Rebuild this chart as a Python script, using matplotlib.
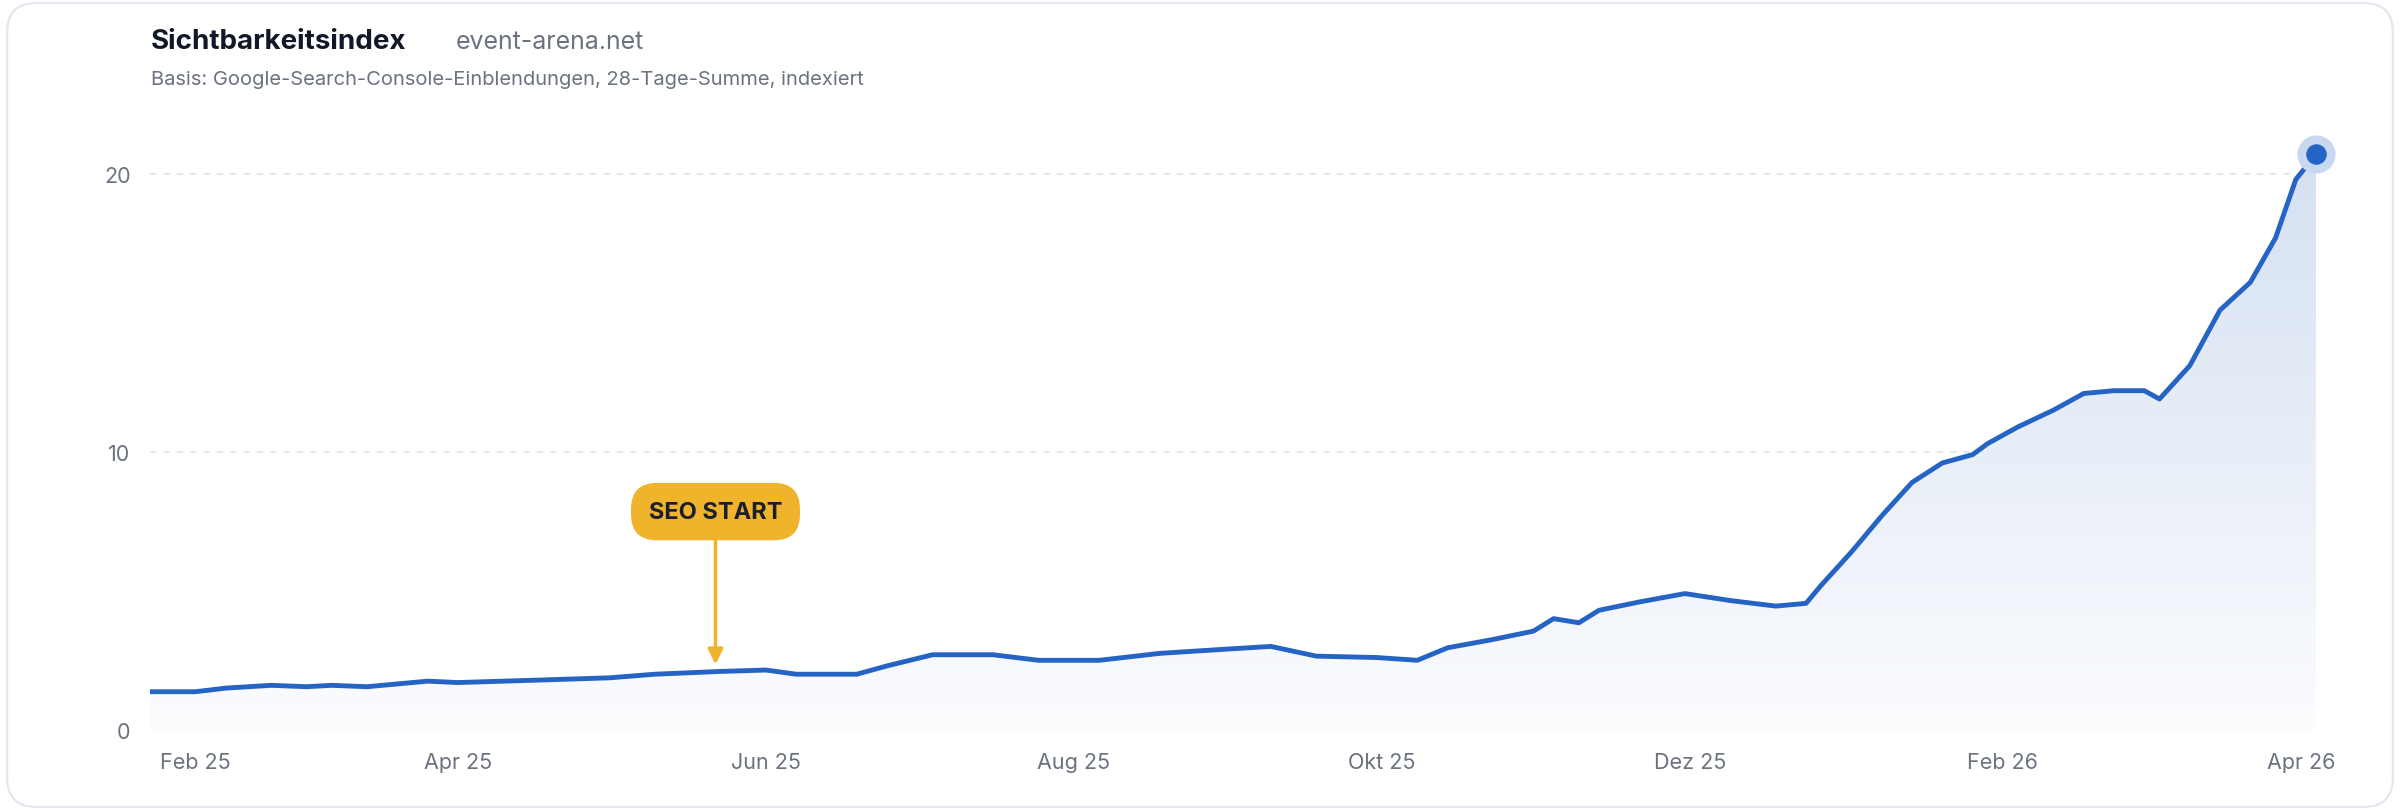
import matplotlib
matplotlib.use("Agg")
import matplotlib.pyplot as plt
import matplotlib.dates as mdates
from matplotlib.patches import FancyBboxPatch, Polygon
from matplotlib.colors import LinearSegmentedColormap
import numpy as np
import pandas as pd

dates = ["2025-01-30","2025-02-08","2025-02-14","2025-02-23","2025-03-02","2025-03-07","2025-03-14",
 "2025-03-20","2025-03-26","2025-04-01","2025-04-10","2025-04-19","2025-05-01","2025-05-10","2025-05-23",
 "2025-06-01","2025-06-07","2025-06-19","2025-06-25","2025-07-04","2025-07-16","2025-07-25","2025-08-06",
 "2025-08-18","2025-08-31","2025-09-09","2025-09-18","2025-09-30","2025-10-08","2025-10-14","2025-10-23",
 "2025-10-31","2025-11-04","2025-11-09","2025-11-13","2025-11-21","2025-11-30","2025-12-09","2025-12-18",
 "2025-12-24","2025-12-27","2026-01-02","2026-01-08","2026-01-14","2026-01-20","2026-01-26","2026-01-29",
 "2026-02-04","2026-02-11","2026-02-17","2026-02-23","2026-03-01","2026-03-04","2026-03-10","2026-03-16",
 "2026-03-22","2026-03-27","2026-03-31","2026-04-04"]
values = [1.37,1.37,1.5,1.6,1.55,1.6,1.55,1.65,1.75,1.7,1.75,1.8,1.87,2.0,2.1,2.15,2.0,2.0,2.3,2.7,2.7,
 2.5,2.5,2.75,2.9,3.0,2.65,2.6,2.5,2.95,3.25,3.55,4.0,3.85,4.3,4.6,4.9,4.65,4.45,4.55,5.2,6.4,7.7,8.9,
 9.6,9.9,10.3,10.9,11.5,12.1,12.2,12.2,11.9,13.1,15.1,16.1,17.7,19.8,20.7]
y_ticks = [0, 10, 20]
x_tick_dates = ["2025-02-01","2025-04-01","2025-06-01","2025-08-01","2025-10-01","2025-12-01","2026-02-01","2026-04-01"]
x_tick_labels = ["Feb 25","Apr 25","Jun 25","Aug 25","Okt 25","Dez 25","Feb 26","Apr 26"]
seo_date = "2025-05-22"
seo_value = 2.25

plt.rcParams['font.family'] = ['Inter', 'DejaVu Sans']
W, H = 2400, 812
fig = plt.figure(figsize=(24, 8.12), dpi=100)
fig.patch.set_facecolor("white")
card = FancyBboxPatch((0.003, 0.005), 0.994, 0.99, boxstyle="round,pad=0,rounding_size=0.012",
                      transform=fig.transFigure, facecolor="white", edgecolor="#e3e6ee", lw=1.5,
                      mutation_aspect=W / H, zorder=-10)
fig.patches.append(card)

ax = fig.add_axes([0.0625, 0.100, 0.9025, 0.736])
ax.set_zorder(5)
ax.patch.set_alpha(0)
x = pd.to_datetime(dates)
xn = mdates.date2num(x)
line_c = "#2563c4"
ax.set_xlim(xn[0], xn[-1])
ax.set_ylim(0, 21.5)

grad = np.linspace(0, 1, 256).reshape(-1, 1)
cmap = LinearSegmentedColormap.from_list("g", ["#fbfcfe", "#d3dff1"])
im = ax.imshow(grad, extent=[xn[0], xn[-1], 0, 21.5], origin="lower", aspect="auto", cmap=cmap, zorder=1)
poly = Polygon(np.column_stack([np.r_[xn[0], xn, xn[-1]], np.r_[0, values, 0]]), closed=True,
               transform=ax.transData, facecolor="none", edgecolor="none")
ax.add_patch(poly)
im.set_clip_path(poly)

for t in [10, 20]:
    ax.axhline(t, color="#dfe3ea", lw=1.2, ls=(0, (4, 4)), zorder=0)
ax.plot(xn, values, color=line_c, lw=3.5, zorder=3, solid_capstyle="round", solid_joinstyle="round")
ax.scatter([xn[-1]], [values[-1]], s=700, color="#c9d8f0", zorder=4, clip_on=False)
ax.scatter([xn[-1]], [values[-1]], s=190, color=line_c, zorder=5, clip_on=False)

for s in ax.spines.values():
    s.set_visible(False)
ax.set_yticks(y_ticks)
ax.set_yticklabels([str(t) for t in y_ticks])
ax.set_xticks(mdates.date2num(pd.to_datetime(x_tick_dates)))
ax.set_xticklabels(x_tick_labels)
ax.tick_params(length=0, labelsize=15.5, labelcolor="#6b7280", pad=16)
ax.tick_params(axis="y", pad=14)
ax.get_xticklabels()[0].set_horizontalalignment("left")

sx = mdates.date2num(pd.Timestamp(seo_date))
ax.annotate("", xy=(sx, seo_value), xytext=(sx, 6.9),
            arrowprops=dict(arrowstyle="-|>,head_length=0.9,head_width=0.45", color="#f0b42c", lw=2.5),
            zorder=6)
ax.text(sx, 7.85, "SEO START", ha="center", va="center", fontsize=17, fontweight="bold",
        color="#1a1f2b", zorder=7,
        bbox=dict(boxstyle="round,pad=0.75,rounding_size=1.1", facecolor="#f0b42c", edgecolor="none"))

fig.text(0.063, 0.948, "Sichtbarkeitsindex", fontsize=20, fontweight="bold", color="#111827", va="center")
fig.text(0.190, 0.948, "event-arena.net", fontsize=18, color="#6b7280", va="center")
fig.text(0.063, 0.902, "Basis: Google-Search-Console-Einblendungen, 28-Tage-Summe, indexiert",
         fontsize=14.5, color="#6b7280", va="center")

fig.savefig("out.png", dpi=100, facecolor="white")
